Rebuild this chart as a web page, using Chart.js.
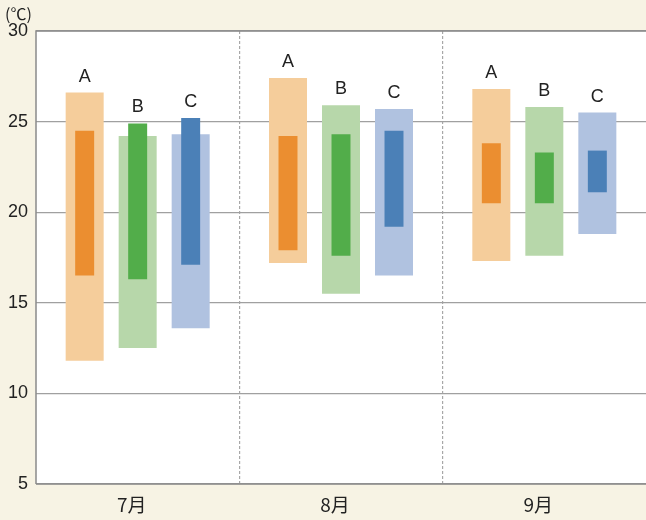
<!DOCTYPE html>
<html>
<head>
<meta charset="utf-8">
<script src="https://cdn.jsdelivr.net/npm/chart.js@4"></script>
<style>
  html, body { margin: 0; padding: 0; background: #f7f3e4; }
  #wrap { width: 646px; height: 520px; position: relative; }
</style>
</head>
<body>
<div id="wrap"><canvas id="chart"></canvas></div>
<script>
// months and series names
const months = ['7月', '8月', '9月'];
const seriesNames = ['A', 'B', 'C'];

// wide (pale) bars: [low, high] per month
const rangeA = [[11.8, 26.6], [17.2, 27.4], [17.3, 26.8]];
const rangeB = [[12.5, 24.2], [15.5, 25.9], [17.6, 25.8]];
const rangeC = [[13.6, 24.3], [16.5, 25.7], [18.8, 25.5]];

// narrow (dark) bars: [low, high] per month
const coreA = [[16.5, 24.5], [17.9, 24.2], [20.5, 23.8]];
const coreB = [[16.3, 24.9], [17.6, 24.3], [20.5, 23.3]];
const coreC = [[17.1, 25.2], [19.2, 24.5], [21.1, 23.4]];

const yTicks = [5, 10, 15, 20, 25, 30];

const paleColors = ['#f5cd9b', '#b7d7aa', '#b0c2e0'];
const darkColors = ['#eb8e30', '#52ad4a', '#4b80b7'];

const catPct = 0.782;

// pale and dark bar of a series share one slot via the stack name
function wide(label, data, color) {
    return {
        label: label,
        stack: label,
        data: data,
        backgroundColor: color,
        categoryPercentage: catPct,
        barPercentage: 0.717,
        order: 2,
    };
}

function narrow(label, data, color) {
    return {
        label: label,
        stack: label,
        data: data,
        backgroundColor: color,
        categoryPercentage: catPct,
        barPercentage: 0.358,
        order: 1,
    };
}

// white plot area + frame
const plotBg = {
    id: 'plotBg',
    beforeDraw(chart) {
        const { ctx, chartArea: a } = chart;
        ctx.save();
        ctx.fillStyle = '#ffffff';
        ctx.fillRect(a.left, a.top, a.right - a.left, a.bottom - a.top);
        ctx.restore();
    },
    afterDraw(chart) {
        const { ctx, chartArea: a } = chart;
        ctx.save();
        ctx.strokeStyle = '#8a8a8a';
        ctx.lineWidth = 1.5;
        ctx.beginPath();
        ctx.moveTo(a.left, a.bottom);
        ctx.lineTo(a.left, a.top);
        ctx.lineTo(a.right, a.top);
        ctx.moveTo(a.left, a.bottom);
        ctx.lineTo(a.right, a.bottom);
        ctx.stroke();

        // unit label
        ctx.fillStyle = '#222';
        ctx.font = '16px "Noto Sans CJK JP"';
        ctx.textAlign = 'left';
        ctx.textBaseline = 'middle';
        ctx.fillText('(℃)', 5, 14);
        ctx.restore();
    },
};

// A / B / C letters over the top of each pale/dark pair
const barLetters = {
    id: 'barLetters',
    afterDatasetsDraw(chart) {
        const { ctx } = chart;
        ctx.save();
        ctx.fillStyle = '#222';
        ctx.font = '18px "Liberation Sans"';
        ctx.textAlign = 'center';
        ctx.textBaseline = 'bottom';
        for (let i = 0; i < 3; i++) {
            const pale = chart.getDatasetMeta(i).data;
            const dark = chart.getDatasetMeta(i + 3).data;
            pale.forEach((bar, j) => {
                const top = Math.min(bar.y, dark[j].y);
                ctx.fillText(seriesNames[i], bar.x, top - 7);
            });
        }
        ctx.restore();
    },
};

new Chart(document.getElementById('chart'), {
    type: 'bar',
    data: {
        labels: months,
        datasets: [
            wide(seriesNames[0], rangeA, paleColors[0]),
            wide(seriesNames[1], rangeB, paleColors[1]),
            wide(seriesNames[2], rangeC, paleColors[2]),
            narrow(seriesNames[0], coreA, darkColors[0]),
            narrow(seriesNames[1], coreB, darkColors[1]),
            narrow(seriesNames[2], coreC, darkColors[2]),
        ],
    },
    options: {
        responsive: true,
        maintainAspectRatio: false,
        animation: false,
        layout: {
            padding: { top: 31, right: 0, left: 0, bottom: 0 },
        },
        plugins: {
            legend: { display: false },
            tooltip: { enabled: false },
        },
        scales: {
            x: {
                offset: true,
                grid: {
                    offset: true,
                    drawTicks: false,
                    color: (c) => (c.type !== 'tick' || c.index === 0 ? 'rgba(0,0,0,0)' : '#a8a8a8'),
                    lineWidth: 1.2,
                },
                border: { display: false, dash: [3, 2] },
                ticks: {
                    padding: 9,
                    labelOffset: -6,
                    color: '#222',
                    font: { size: 19, family: '"Noto Sans CJK JP"' },
                },
                afterFit(scale) { scale.height = 36; },
            },
            y: {
                min: 5,
                max: 30,
                stacked: false,
                afterBuildTicks(scale) {
                    scale.ticks = yTicks.map(v => ({ value: v }));
                },
                grid: {
                    drawTicks: false,
                    color: '#a0a0a0',
                    lineWidth: 1.2,
                },
                border: { display: false },
                ticks: {
                    padding: 8,
                    color: '#222',
                    font: { size: 18, family: '"Liberation Sans"' },
                },
                afterFit(scale) { scale.width = 36; },
            },
        },
    },
    plugins: [plotBg, barLetters],
});
</script>
</body>
</html>
